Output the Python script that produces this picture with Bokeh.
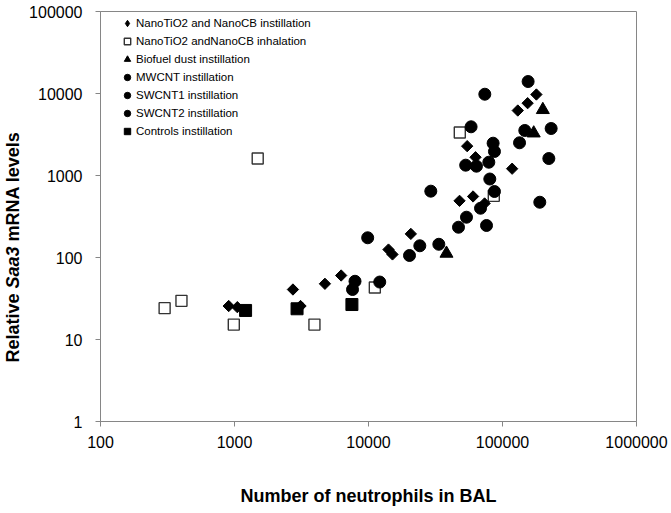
from math import pi
from bokeh.plotting import figure
from bokeh.layouts import row
from bokeh.models import (Range1d, FixedTicker, NumeralTickFormatter, Legend,
                          LegendItem)
from bokeh.core.properties import value
from bokeh.embed import file_html
from bokeh.resources import INLINE

# ---------------- data ----------------
tio2_instill_x = [905, 1050, 2730, 3110, 4730, 6250, 14100, 15100, 20700, 47800,
                  60300, 73500, 54500, 62900, 118000, 130000, 154000, 179000]
tio2_instill_y = [25.6, 24.8, 40.7, 25.6, 47.8, 60.3, 125, 109, 194, 491,
                  555, 456, 2280, 1670, 1210, 6200, 7620, 9720]

tio2_inhal_x = [301, 402, 988, 1490, 3950, 11150, 48000, 86100]
tio2_inhal_y = [24.1, 29.6, 15.2, 1610, 15.2, 43.1, 3340, 565]

biofuel_x = [38200, 171000, 200000]
biofuel_y = [112, 3280, 6330]

mwcnt_x = [9860, 7930, 7600, 12130, 20230, 24150, 33480, 29170, 46950]
mwcnt_y = [174, 51.3, 40.7, 50.2, 105.8, 139, 145, 644, 234]

swcnt1_x = [53860, 75990, 68550, 80400, 87100, 53110, 63920, 79060, 85110]
swcnt1_y = [310, 245.7, 399, 906, 638, 1336, 1299, 1452, 2477]

swcnt2_x = [87100, 58290, 73790, 134000, 146700, 155300, 230700, 221700, 189800]
swcnt2_y = [1963, 3925, 9800, 2506, 3540, 14000, 3742, 1611, 472]

controls_x = [1210, 2930, 7520]
controls_y = [22.6, 23.7, 26.7]

x_ticks = [100, 1000, 10000, 100000, 1000000]
y_ticks = [1, 10, 100, 1000, 10000, 100000]

labels = ["NanoTiO2 and NanoCB instillation", "NanoTiO2 andNanoCB inhalation",
          "Biofuel dust instillation", "MWCNT instillation", "SWCNT1 instillation",
          "SWCNT2 instillation", "Controls instillation"]

# y-axis title pieces; "Saa3" is an italic gene name
y_title_plain = ["Relative", "mRNA levels"]
y_title_italic = ["Saa3"]

FONT = "Liberation Sans"
GRAY = "#868686"
TITLE_W = 24
H = 513
TOP, BOTTOM = 11, 92          # frame borders shared by both panels

# ---------------- y-axis title strip (y = 513 - page pixel) ----------------
t = figure(width=TITLE_W, height=H, x_range=Range1d(0, TITLE_W),
           y_range=Range1d(BOTTOM, H - TOP),
           title=None, output_backend="svg", toolbar_location=None,
           x_axis_location=None, y_axis_location=None,
           min_border=0, min_border_left=0, min_border_right=0,
           min_border_top=TOP, min_border_bottom=BOTTOM)
t.outline_line_color = None
t.xgrid.visible = False
t.ygrid.visible = False
t.background_fill_color = "white"
t.border_fill_color = "white"
# centres of each piece (title runs from 362 px up to 131 px, 5 px gaps)
t.text(x=[12, 12], y=[H - 327.5, H - 186], text=y_title_plain, angle=pi / 2,
       text_align="center", text_baseline="middle",
       text_font=value(FONT), text_font_style="bold", text_font_size="18px",
       text_color="black")
t.text(x=[12], y=[H - 267], text=y_title_italic, angle=pi / 2,
       text_align="center", text_baseline="middle",
       text_font=value(FONT), text_font_style="bold italic", text_font_size="18px",
       text_color="black")

# ---------------- main figure ----------------
p = figure(width=671 - TITLE_W, height=H, x_axis_type="log", y_axis_type="log",
           x_range=Range1d(100, 1000000), y_range=Range1d(1, 100000),
           output_backend="svg", toolbar_location=None,
           min_border_left=100 - TITLE_W, min_border_right=35, min_border_top=TOP,
           min_border_bottom=BOTTOM)
p.background_fill_color = "white"
p.border_fill_color = "white"
p.outline_line_color = GRAY
p.outline_line_width = 1
p.xgrid.visible = False
p.ygrid.visible = False

p.xaxis.ticker = FixedTicker(ticks=x_ticks)
p.yaxis.ticker = FixedTicker(ticks=y_ticks)
for ax in (p.xaxis[0], p.yaxis[0]):
    ax.formatter = NumeralTickFormatter(format="0")
    ax.axis_line_color = GRAY
    ax.major_tick_line_color = GRAY
    ax.minor_tick_line_color = None
    ax.major_tick_in = 0
    ax.major_tick_out = 5
    ax.major_label_text_font = FONT
    ax.major_label_text_font_size = "16px"
    ax.major_label_text_color = "black"
p.xaxis.major_label_standoff = 9
p.yaxis.major_label_standoff = 13

p.xaxis.axis_label = "Number of neutrophils in BAL"
p.xaxis.axis_label_text_font = FONT
p.xaxis.axis_label_text_font_style = "bold"
p.xaxis.axis_label_text_font_size = "18px"
p.xaxis.axis_label_text_color = "black"
p.xaxis.axis_label_standoff = 35

# ---------------- marks ----------------
r_inhal = p.scatter(tio2_inhal_x, tio2_inhal_y, marker="square", size=11,
                    fill_color="white", line_color="#333333", line_width=1.4)
# narrow diamond hidden beneath the rotated squares; used as legend swatch
r_instill_key = p.scatter(tio2_instill_x, tio2_instill_y, marker="diamond", size=7,
                          fill_color="black", line_color="black")
r_instill = p.scatter(tio2_instill_x, tio2_instill_y, marker="square", angle=pi / 4,
                      size=8, fill_color="black", line_color="black")
r_bio = p.scatter(biofuel_x, biofuel_y, marker="triangle", size=13,
                  fill_color="black", line_color="black")
r_mw = p.scatter(mwcnt_x, mwcnt_y, marker="circle", size=12,
                 fill_color="black", line_color="black")
r_sw1 = p.scatter(swcnt1_x, swcnt1_y, marker="circle", size=12,
                  fill_color="black", line_color="black")
r_sw2 = p.scatter(swcnt2_x, swcnt2_y, marker="circle", size=12,
                  fill_color="black", line_color="black")
r_ctrl = p.scatter(controls_x, controls_y, marker="square", size=12,
                   fill_color="black", line_color="black")

renderers = [r_instill_key, r_inhal, r_bio, r_mw, r_sw1, r_sw2, r_ctrl]
legend = Legend(items=[LegendItem(label=l, renderers=[r]) for l, r in zip(labels, renderers)],
                location=(19, 281), padding=0, margin=0, spacing=0,
                glyph_width=16, glyph_height=16, label_height=18, label_standoff=1,
                label_text_font=FONT, label_text_font_size="11.5px",
                label_text_color="black", border_line_color=None,
                background_fill_alpha=0)
p.add_layout(legend)

layout = row(t, p, spacing=0)
open("out.html", "w").write(file_html(layout, INLINE))
